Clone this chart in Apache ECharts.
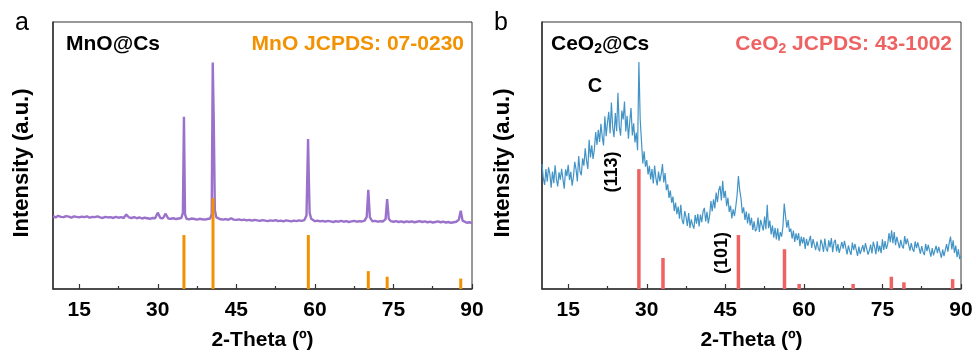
<!DOCTYPE html>
<html>
<head>
<meta charset="utf-8">
<script src="https://cdn.jsdelivr.net/npm/echarts@6/dist/echarts.min.js"></script>
<style>html,body{margin:0;padding:0;background:#fff;}#c{width:976px;height:352px;}</style>
</head>
<body>
<div id="c"></div>
<script>
// ---------- DATA ----------
const xTicks = [15, 30, 45, 60, 75, 90];
const xMinorTicks = [22.5, 37.5, 52.5, 67.5, 82.5];

// MnO@Cs measured pattern [2theta, intensity]
const mnoPattern = [
 [10,27.3],[10.5,26.8],[11,27.4],[11.5,27.0],[12,26.9],[12.5,27.3],[13,27.1],[13.5,26.7],[14,27.2],[14.5,27.0],
 [15,26.8],[15.5,27.1],[16,26.9],[16.5,27.2],[17,26.7],[17.5,27.0],[18,26.9],[18.5,27.2],[19,26.8],[19.5,26.6],
 [20,27.0],[20.5,26.8],[21,26.9],[21.5,26.6],[22,27.0],[22.5,26.7],[23,26.9],[23.5,26.6],[24,27.9],[24.5,26.8],
 [25,26.6],[25.5,26.9],[26,26.5],[26.5,26.8],[27,26.4],[27.5,26.7],[28,26.5],[28.5,26.3],[29,26.6],[29.5,26.5],
 [30,28.6],[30.5,26.6],[31,26.5],[31.5,28.2],[32,26.4],[32.5,26.3],[33,26.5],[33.5,26.2],[34,26.4],[34.5,26.6],
 [34.8,28.5],[35,64.5],[35.2,28.0],[35.5,26.3],[36,26.1],[36.5,26.4],[37,26.2],[37.5,26.0],[38,26.3],[38.5,26.1],
 [39,26.0],[39.5,26.2],[40,26.4],[40.3,28.0],[40.5,84.8],[40.7,62.0],[40.9,29.5],[41.2,26.8],[41.5,26.3],[42,26.1],
 [42.5,26.0],[43,26.2],[43.5,25.9],[44,26.5],[44.5,26.0],[45,25.9],[45.5,26.1],[46,25.8],[46.5,26.0],[47,25.7],
 [47.5,25.9],[48,25.6],[48.5,25.9],[49,25.7],[49.5,25.5],[50,25.8],[50.5,25.6],[51,25.4],[51.5,25.7],[52,25.5],
 [52.5,25.8],[53,25.4],[53.5,25.6],[54,25.3],[54.5,25.7],[55,25.5],[55.5,25.3],[56,25.6],[56.5,25.4],[57,25.7],
 [57.5,25.5],[58,25.8],[58.4,27.5],[58.7,56.2],[58.85,41.0],[59,28.5],[59.3,26.3],[59.6,25.7],[60,25.4],[60.5,25.6],
 [61,25.3],[61.5,25.5],[62,25.2],[62.5,25.5],[63,25.3],[63.5,25.1],[64,25.4],[64.5,25.2],[65,25.5],[65.5,25.2],
 [66,25.4],[66.5,25.1],[67,25.3],[67.5,25.5],[68,25.2],[68.5,25.4],[69,25.3],[69.5,25.6],[69.9,27.0],[70.2,37.1],
 [70.5,26.8],[71,25.3],[71.5,25.5],[72,25.2],[72.5,25.4],[73,25.3],[73.5,26.2],[73.8,33.7],[74.1,26.3],[74.5,25.4],
 [75,25.2],[75.5,25.4],[76,25.1],[76.5,25.3],[77,25.0],[77.5,25.3],[78,25.1],[78.5,25.3],[79,25.0],[79.5,25.2],
 [80,25.4],[80.5,25.1],[81,25.3],[81.5,25.0],[82,25.2],[82.5,24.9],[83,25.1],[83.5,25.3],[84,25.0],[84.5,25.2],
 [85,24.9],[85.5,25.1],[86,24.8],[86.5,25.0],[87,25.2],[87.5,26.0],[87.85,29.3],[88.2,25.6],[88.5,25.0],[89,24.8],
 [89.5,25.0],[90,24.7]
];
// MnO JCPDS 07-0230 reference lines
const mnoRefTheta = [35.0, 40.55, 58.75, 70.2, 73.8, 87.85];
const mnoRefIntensity = [20.2, 34.0, 20.2, 6.7, 4.6, 3.9];

// CeO2@Cs measured pattern, sampled every 0.25 deg from 10 deg
const ceoStart = 10, ceoStep = 0.25;
const ceoIntensity = [
 46.8,41.5,39.0,44.9, 40.2,45.6,43.1,37.9, 44.0,39.6,46.3,41.2, 38.4,43.7,40.9,45.0, 41.1,37.6,44.8,42.3,
 46.5,40.8,43.9,38.7, 42.0,47.6,44.9,40.3, 49.8,44.1,42.6,48.9, 46.2,52.7,48.1,45.0, 55.9,49.3,53.8,48.7,
 52.4,58.8,54.0,59.6, 55.1,61.9,57.0,53.8, 64.7,57.2,62.3,66.4, 58.3,69.8,60.5,56.9, 65.9,59.1,73.5,61.0,
 57.4,66.8,63.5,70.2, 59.0,64.9,56.3,62.7, 67.8,57.5,62.1,54.9, 58.6,52.0,85.0,63.5, 55.2,47.0,51.6,45.8,
 48.3,42.9,46.1,41.0, 44.9,39.5,46.2,41.4, 38.8,44.0,40.3,42.9, 46.8,39.9,43.4,37.0, 39.2,34.1,36.9,32.3,
 34.6,29.2,32.4,28.0, 30.9,26.3,31.5,25.8, 24.3,29.2,27.0,23.6, 28.4,22.9,26.1,24.0, 22.6,27.8,24.5,28.1,
 23.4,27.9,25.0,29.0, 30.4,25.3,28.9,24.6, 27.5,32.9,29.1,33.6, 30.2,36.1,32.5,37.0, 38.6,33.2,40.5,34.1,
 36.8,31.0,34.2,28.9, 31.2,26.4,29.8,27.3, 30.9,35.2,42.3,37.0, 33.8,28.4,30.6,25.9, 29.0,24.6,28.3,23.8,
 26.7,22.1,25.3,21.6, 22.5,26.8,21.4,25.9, 26.2,21.9,27.1,22.4, 31.5,22.8,25.6,20.4, 23.8,19.2,22.9,18.6,
 22.7,18.1,21.3,19.6, 23.4,32.0,27.2,23.0, 25.8,21.4,22.6,18.9, 21.9,17.6,20.8,18.3, 20.9,16.0,19.6,17.1,
 19.4,15.0,18.8,16.2, 16.0,19.9,15.4,18.7, 19.0,14.6,17.8,15.3, 14.1,18.5,16.9,13.9, 18.9,15.2,14.0,18.2,
 15.6,19.1,13.8,17.4, 18.4,14.1,16.8,13.5, 13.6,17.6,15.1,18.0, 17.9,13.0,16.3,14.2, 12.8,17.4,14.6,16.9,
 16.8,12.4,15.9,13.1, 12.6,16.4,13.8,17.2, 17.1,12.9,14.4,16.6, 13.3,17.7,15.8,13.0, 17.9,14.0,16.2,13.4,
 18.6,14.6,17.9,15.0, 16.8,20.9,17.5,22.0, 17.2,21.3,16.4,19.5, 19.9,15.3,18.4,16.1, 15.2,19.8,16.7,18.9,
 18.5,14.4,17.2,15.0, 14.0,17.8,15.3,17.5, 17.2,13.2,16.1,13.9, 12.7,16.9,14.2,16.5, 16.4,12.1,15.3,12.6,
 11.9,16.2,13.4,15.8, 16.1,11.7,14.8,12.3, 12.6,16.8,14.0,17.3, 19.6,14.8,18.2,13.5, 16.3,11.9,14.9,11.2,
 12.5
];
// CeO2 JCPDS 43-1002 reference lines
const ceoRefTheta = [28.5, 33.1, 47.5, 56.3, 59.1, 69.4, 76.7, 79.1, 88.4];
const ceoRefIntensity = [44.9, 11.6, 20.2, 14.9, 1.9, 1.9, 4.6, 2.5, 3.7];

// ---------- CHART ----------
const FONT = '"Liberation Sans", Arial, sans-serif';
const ceoPattern = ceoIntensity.map((v, i) => [ceoStart + i * ceoStep, v]);
const zip = (a, b) => a.map((x, i) => [x, b[i]]);

function mainX(gi) {
  return {
    type: 'value', gridIndex: gi, min: 10, max: 90, position: 'bottom',
    name: '2-Theta (\u00BA)', nameLocation: 'middle', nameGap: 41,
    nameTextStyle: { fontFamily: FONT, fontWeight: 'bold', fontSize: 21, color: '#000' },
    axisLine: { show: true, onZero: false, lineStyle: { color: '#333', width: 1.5 } },
    axisTick: { show: true, inside: true, length: 5, customValues: xTicks, lineStyle: { color: '#333', width: 1.2 } },
    axisLabel: { show: true, customValues: xTicks, margin: 11, fontFamily: FONT, fontWeight: 'bold', fontSize: 21, color: '#000' },
    splitLine: { show: false }
  };
}
function minorX(gi) {
  return {
    type: 'value', gridIndex: gi, min: 10, max: 90, position: 'bottom',
    axisLine: { show: false },
    axisTick: { show: true, inside: true, length: 3, customValues: xMinorTicks, lineStyle: { color: '#333', width: 1.2 } },
    axisLabel: { show: false },
    splitLine: { show: false }
  };
}
function yAx(gi) {
  return {
    type: 'value', gridIndex: gi, min: 0, max: 100,
    axisLine: { show: true, onZero: false, lineStyle: { color: '#333', width: 1.5 } },
    axisTick: { show: false }, axisLabel: { show: false }, splitLine: { show: false }
  };
}
function txt(text, x, y, size, color, align, weight, extra, rot) {
  return {
    type: 'text', x: x, y: y, rotation: rot || 0, silent: true,
    style: Object.assign({
      text: text, fill: color, fontFamily: FONT, fontSize: size, fontWeight: weight || 'bold',
      align: align, verticalAlign: 'middle', textAlign: align, textVerticalAlign: 'middle'
    }, extra || {})
  };
}
const subRich = (c, fs) => ({ s: { fontSize: fs, fontWeight: 'bold', fontFamily: FONT, fill: c, color: c, padding: [10, 0, 0, 0] } });

const chart = echarts.init(document.getElementById('c'), null, { renderer: 'canvas' });
chart.setOption({
  backgroundColor: '#fff',
  animation: false,
  grid: [
    { left: 53, right: 504, top: 22, bottom: 63, show: true, borderColor: '#333', borderWidth: 1, containLabel: false, outerBoundsMode: 'none' },
    { left: 542, right: 15, top: 22, bottom: 63, show: true, borderColor: '#333', borderWidth: 1, containLabel: false, outerBoundsMode: 'none' }
  ],
  xAxis: [mainX(0), minorX(0), mainX(1), minorX(1)],
  yAxis: [yAx(0), yAx(1)],
  series: [
    { type: 'line', xAxisIndex: 0, yAxisIndex: 0, data: mnoPattern, showSymbol: false, symbol: 'none',
      lineStyle: { color: '#9B72CB', width: 2.4 }, z: 2 },
    { type: 'bar', xAxisIndex: 0, yAxisIndex: 0, data: zip(mnoRefTheta, mnoRefIntensity), barWidth: 3,
      itemStyle: { color: '#F39200' }, z: 3 },
    { type: 'line', xAxisIndex: 2, yAxisIndex: 1, data: ceoPattern, showSymbol: false, symbol: 'none',
      lineStyle: { color: '#4394C6', width: 1.2 }, z: 2 },
    { type: 'bar', xAxisIndex: 2, yAxisIndex: 1, data: zip(ceoRefTheta, ceoRefIntensity), barWidth: 3.5,
      itemStyle: { color: '#EF6262' }, z: 3 }
  ],
  graphic: [
    txt('a', 15, 23, 25, '#000', 'left', 'normal'),
    txt('b', 494, 23, 25, '#000', 'left', 'normal'),
    txt('MnO@Cs', 66, 44, 21, '#000', 'left'),
    txt('MnO JCPDS: 07-0230', 464, 44, 21, '#F39200', 'right'),
    txt('CeO{s|2}@Cs', 551, 44, 21, '#000', 'left', 'bold', { rich: subRich('#000', 14) }),
    txt('CeO{s|2} JCPDS: 43-1002', 952, 44, 21, '#EF6262', 'right', 'bold', { rich: subRich('#EF6262', 14) }),
    txt('Intensity (a.u.)', 22, 163, 22, '#000', 'center', 'bold', null, Math.PI / 2),
    txt('Intensity (a.u.)', 503, 163, 22, '#000', 'center', 'bold', null, Math.PI / 2),
    txt('C', 595, 86, 20, '#000', 'center'),
    txt('(113)', 612, 172, 18, '#000', 'center', 'bold', null, Math.PI / 2),
    txt('(101)', 722, 253, 18, '#000', 'center', 'bold', null, Math.PI / 2)
  ]
});
</script>
</body>
</html>
